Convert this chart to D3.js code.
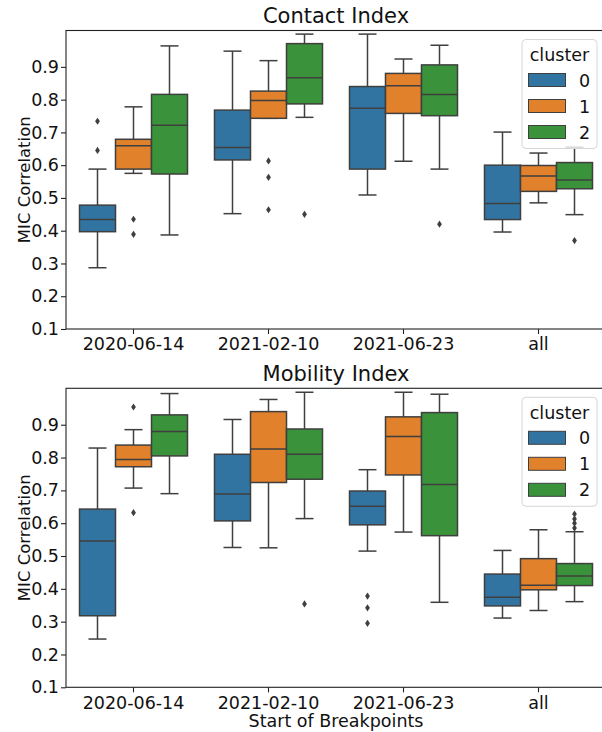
<!DOCTYPE html>
<html>
<head>
<meta charset="utf-8">
<script src="https://cdn.jsdelivr.net/npm/d3@7"></script>
<style>
  body { margin: 0; background: #fff; }
  svg { font-family: "DejaVu Sans", sans-serif; display: block; }
</style>
</head>
<body>
<svg id="chart" width="602" height="732"></svg>
<script>
// categories
var dates = ["2020-06-14", "2021-02-10", "2021-06-23", "all"];
var clusters = ["0", "1", "2"];
var yTicks = [0.1, 0.2, 0.3, 0.4, 0.5, 0.6, 0.7, 0.8, 0.9];

// Contact Index box stats, rows = cluster, columns = date
var contactLow    = [[0.287, 0.452, 0.509, 0.396], [0.575, 0.743, 0.612, 0.485], [0.387, 0.746, 0.588, 0.449]];
var contactQ1     = [[0.397, 0.616, 0.588, 0.434], [0.588, 0.743, 0.758, 0.520], [0.573, 0.787, 0.751, 0.528]];
var contactMedian = [[0.434, 0.654, 0.774, 0.483], [0.659, 0.797, 0.842, 0.567], [0.722, 0.867, 0.816, 0.555]];
var contactQ3     = [[0.478, 0.768, 0.840, 0.600], [0.679, 0.826, 0.880, 0.599], [0.816, 0.971, 0.906, 0.608]];
var contactHigh   = [[0.588, 0.948, 1.000, 0.701], [0.778, 0.919, 0.924, 0.637], [0.964, 1.000, 0.966, 0.655]];
var contactOut    = [[[0.734, 0.645], [], [], []],
                     [[0.435, 0.389], [0.613, 0.563, 0.464], [], []],
                     [[], [0.450], [0.420], [0.370]]];

// Mobility Index box stats
var mobilityLow    = [[0.247, 0.526, 0.515, 0.311], [0.707, 0.525, 0.573, 0.334], [0.690, 0.614, 0.359, 0.361]];
var mobilityQ1     = [[0.318, 0.607, 0.595, 0.348], [0.772, 0.724, 0.747, 0.397], [0.805, 0.734, 0.562, 0.410]];
var mobilityMedian = [[0.546, 0.689, 0.652, 0.374], [0.794, 0.826, 0.864, 0.411], [0.879, 0.810, 0.718, 0.439]];
var mobilityQ3     = [[0.643, 0.810, 0.698, 0.445], [0.838, 0.940, 0.924, 0.492], [0.930, 0.887, 0.937, 0.477]];
var mobilityHigh   = [[0.829, 0.916, 0.763, 0.517], [0.885, 0.977, 0.999, 0.580], [0.995, 0.999, 0.993, 0.574]];
var mobilityOut    = [[[], [], [0.378, 0.342, 0.295], []],
                      [[0.954, 0.632], [], [], []],
                      [[], [0.354], [], [0.628, 0.613, 0.600, 0.585]]];

var colors = ["#3274a1", "#e1812c", "#3a923a"];
var lineColor = "#3f3f3f";

var svg = d3.select("#chart");

var x = d3.scaleBand().domain(dates).range([66, 606]);
var hue = d3.scaleBand().domain(clusters)
  .range([-0.4 * x.bandwidth(), 0.4 * x.bandwidth()]);

function drawPanel(opts) {
  var y = d3.scaleLinear().domain([0.1, 1.011]).range([opts.bottom, opts.top]);
  var g = svg.append("g");
  var bw = hue.bandwidth();

  // boxes
  clusters.forEach(function(c, ci) {
    dates.forEach(function(d, di) {
      var cx = x(d) + x.bandwidth() / 2 + hue(c) + bw / 2;
      var box = g.append("g");
      // whiskers
      box.append("line")
        .attr("x1", cx).attr("x2", cx)
        .attr("y1", y(opts.q3[ci][di])).attr("y2", y(opts.high[ci][di]))
        .attr("stroke", lineColor).attr("stroke-width", 1.5);
      box.append("line")
        .attr("x1", cx).attr("x2", cx)
        .attr("y1", y(opts.q1[ci][di])).attr("y2", y(opts.low[ci][di]))
        .attr("stroke", lineColor).attr("stroke-width", 1.5);
      // caps
      [opts.high[ci][di], opts.low[ci][di]].forEach(function(v) {
        box.append("line")
          .attr("x1", cx - bw / 4).attr("x2", cx + bw / 4)
          .attr("y1", y(v)).attr("y2", y(v))
          .attr("stroke", lineColor).attr("stroke-width", 1.5);
      });
      box.append("rect")
        .attr("x", cx - bw / 2)
        .attr("width", bw)
        .attr("y", y(opts.q3[ci][di]))
        .attr("height", y(opts.q1[ci][di]) - y(opts.q3[ci][di]))
        .attr("fill", colors[ci])
        .attr("stroke", lineColor).attr("stroke-width", 1.5);
      box.append("line")
        .attr("x1", cx - bw / 2).attr("x2", cx + bw / 2)
        .attr("y1", y(opts.median[ci][di])).attr("y2", y(opts.median[ci][di]))
        .attr("stroke", lineColor).attr("stroke-width", 1.5);
      // outliers
      box.selectAll("path.flier")
        .data(opts.out[ci][di])
        .enter().append("path")
        .attr("class", "flier")
        .attr("d", function(v) {
          var py = y(v);
          return "M" + cx + "," + (py - 3.6) + "L" + (cx + 2.4) + "," + py +
                 "L" + cx + "," + (py + 3.6) + "L" + (cx - 2.4) + "," + py + "Z";
        })
        .attr("fill", lineColor);
    });
  });

  // axes
  var yAxis = g.append("g")
    .attr("transform", "translate(66,0)")
    .call(d3.axisLeft(y).tickValues(yTicks).tickFormat(d3.format(".1f")).tickSize(5).tickPadding(2));
  var xAxis = g.append("g")
    .attr("transform", "translate(0," + opts.bottom + ")")
    .call(d3.axisBottom(x).tickSize(5).tickPadding(4));
  [yAxis, xAxis].forEach(function(a) {
    a.select(".domain").remove();
    a.selectAll("line").attr("stroke", "#222").attr("stroke-width", 1.1);
    a.selectAll("text").attr("font-size", 17.5).attr("fill", "#111")
      .attr("font-family", "DejaVu Sans, sans-serif");
  });

  // spines
  g.append("rect")
    .attr("x", 66).attr("y", opts.top)
    .attr("width", 540).attr("height", opts.bottom - opts.top)
    .attr("fill", "none").attr("stroke", "#222").attr("stroke-width", 1.1);

  // title
  g.append("text")
    .attr("x", 336).attr("y", opts.top - 7.5)
    .attr("text-anchor", "middle")
    .attr("font-size", 21).attr("fill", "#111")
    .text(opts.title);

  // y label
  g.append("text")
    .attr("transform", "translate(30," + ((opts.top + opts.bottom) / 2) + ") rotate(-90)")
    .attr("text-anchor", "middle")
    .attr("font-size", 16.5).attr("fill", "#111")
    .text("MIC Correlation");

  // legend
  var lg = g.append("g").attr("transform", "translate(522," + (opts.top + 9) + ")");
  lg.append("rect")
    .attr("width", 75).attr("height", 109)
    .attr("rx", 4)
    .attr("fill", "#fff").attr("fill-opacity", 0.8)
    .attr("stroke", "#d6d6d6").attr("stroke-width", 1);
  lg.append("text")
    .attr("x", 37.5).attr("y", 21.5)
    .attr("text-anchor", "middle")
    .attr("font-size", 17.5).attr("fill", "#111")
    .text("cluster");
  clusters.forEach(function(c, ci) {
    lg.append("rect")
      .attr("x", 6.5).attr("y", 34 + ci * 26)
      .attr("width", 37).attr("height", 13)
      .attr("fill", colors[ci])
      .attr("stroke", lineColor).attr("stroke-width", 1);
    lg.append("text")
      .attr("x", 57).attr("y", 47 + ci * 26)
      .attr("font-size", 17.5).attr("fill", "#111")
      .text(c);
  });
}

drawPanel({
  title: "Contact Index", top: 30.5, bottom: 329,
  low: contactLow, q1: contactQ1, median: contactMedian, q3: contactQ3,
  high: contactHigh, out: contactOut
});
drawPanel({
  title: "Mobility Index", top: 388.3, bottom: 687.3,
  low: mobilityLow, q1: mobilityQ1, median: mobilityMedian, q3: mobilityQ3,
  high: mobilityHigh, out: mobilityOut
});

svg.append("text")
  .attr("x", 336).attr("y", 727)
  .attr("text-anchor", "middle")
  .attr("font-size", 17.5).attr("fill", "#111")
  .text("Start of Breakpoints");
</script>
</body>
</html>
